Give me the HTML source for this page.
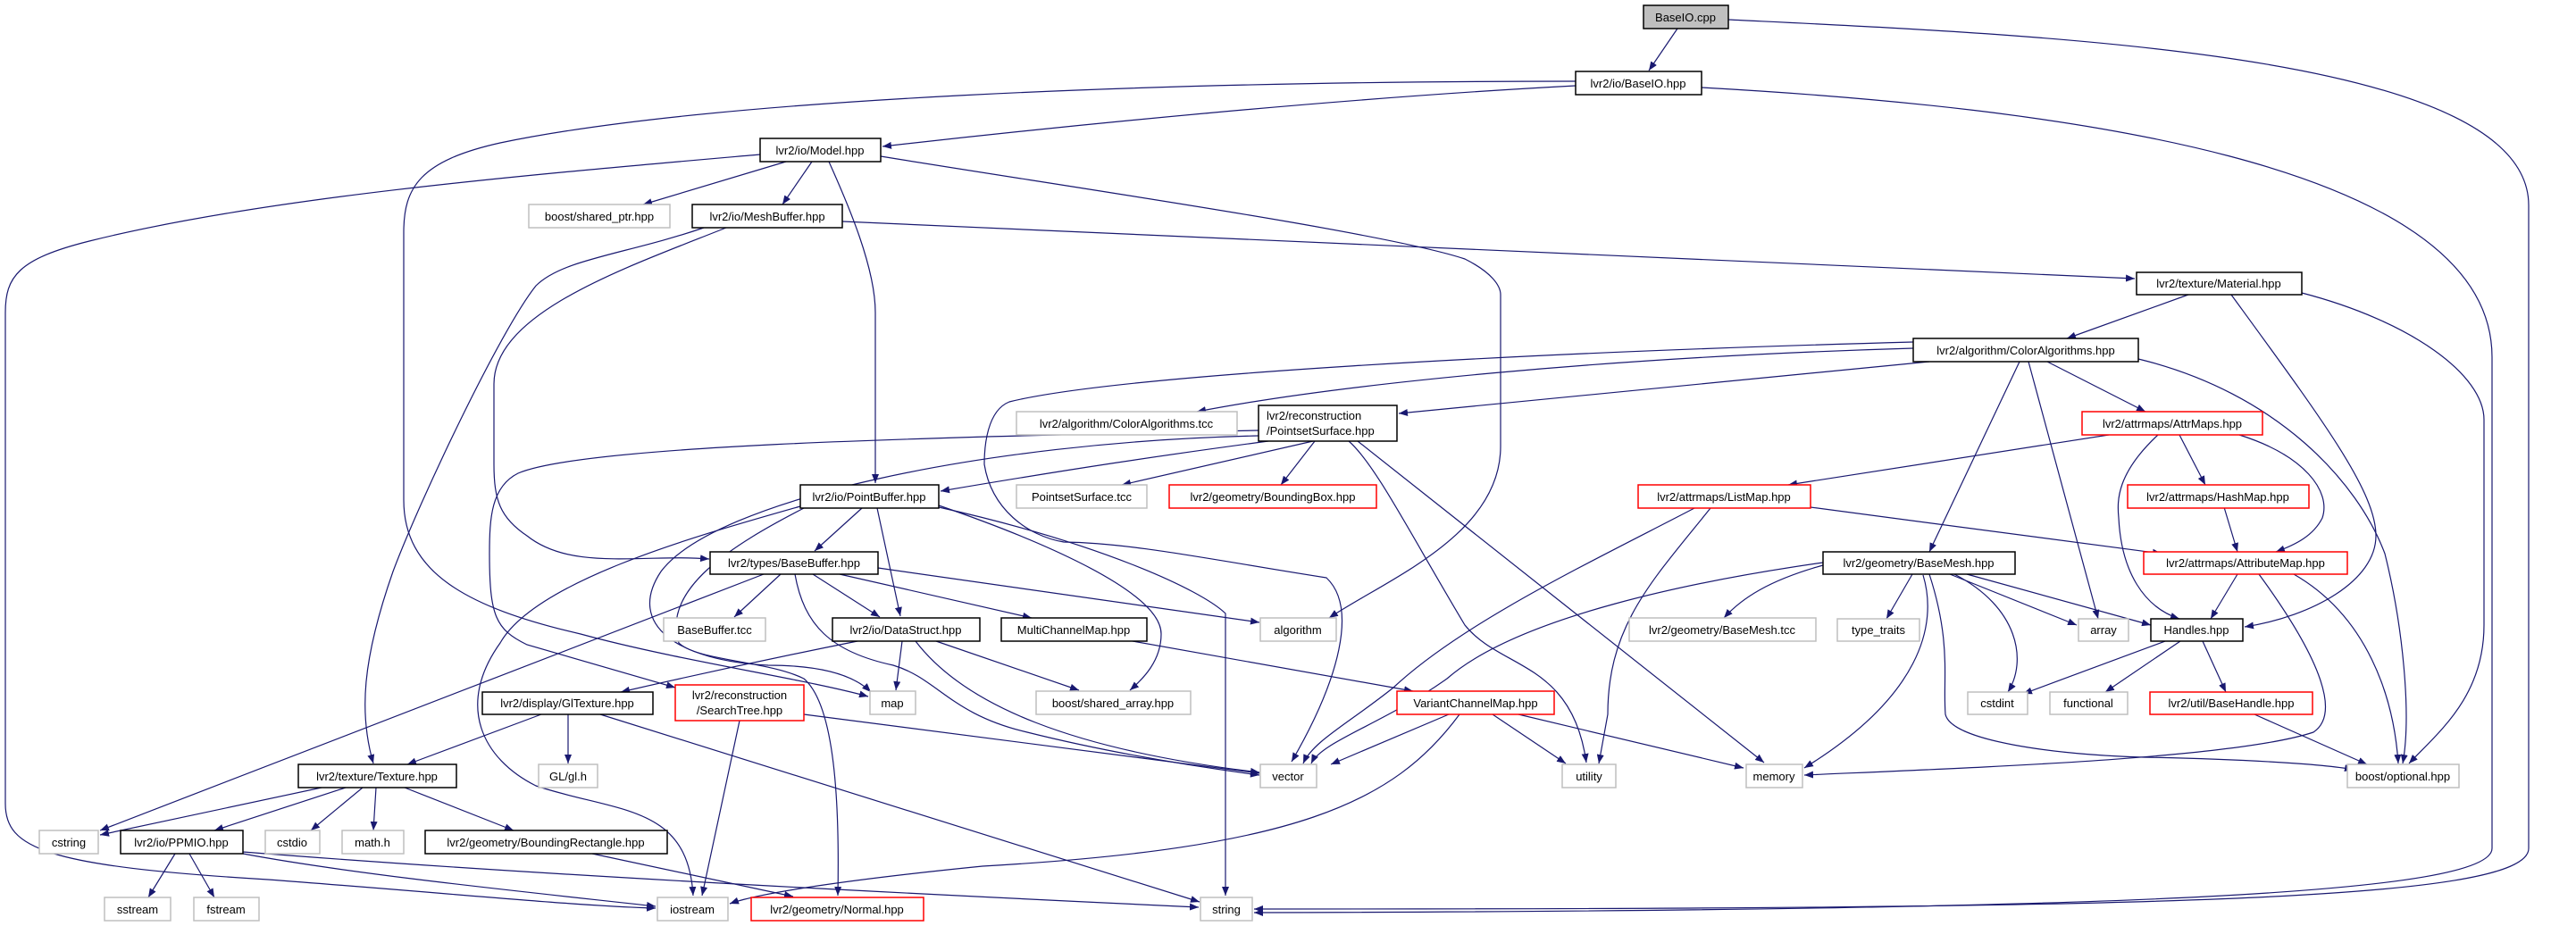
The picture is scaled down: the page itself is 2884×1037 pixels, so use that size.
<!DOCTYPE html>
<html><head><meta charset="utf-8"><style>
html,body{margin:0;padding:0;background:#fff;}
svg{display:block;}
text{font-family:"Liberation Sans",sans-serif;font-size:13px;fill:#000;}
.e{fill:none;stroke:#191970;stroke-width:1.2;marker-end:url(#a);}
.n{fill:#fff;stroke:#000;stroke-width:1.5;}
.g{fill:#fff;stroke:#bfbfbf;stroke-width:1.5;}
.r{fill:#fff;stroke:#ff0000;stroke-width:1.5;}
</style></head><body>
<svg width="2884" height="1037" viewBox="0 0 2884 1037" xmlns="http://www.w3.org/2000/svg">
<defs><marker id="a" markerWidth="10" markerHeight="8" refX="10" refY="4" orient="auto" markerUnits="userSpaceOnUse"><path d="M0,0 L10,4 L0,8 z" fill="#191970"/></marker></defs>
<g>
<path class="e" d="M1878,32 L1846,79"/>
<path class="e" d="M1935,22 C2300,40 2831,60 2831,230 L2831,950 C2831,1010 2400,1018 1404,1018"/>
<path class="e" d="M1764,96 C1500,110 1200,140 988,164"/>
<path class="e" d="M1764,91 C1300,91 800,110 560,160 C470,180 452,210 452,260 L452,560 C452,640 520,680 650,710 C760,740 900,760 972,780"/>
<path class="e" d="M1905,98 C2300,120 2790,180 2790,400 L2790,950 C2790,1000 2400,1020 1404,1022"/>
<path class="e" d="M880,181 L720,229"/>
<path class="e" d="M909,181 L876,229"/>
<path class="e" d="M928,181 C950,230 980,300 980,350 L980,541"/>
<path class="e" d="M851,173 C600,195 300,220 100,270 C20,290 6,310 6,350 L6,900 C6,950 50,970 300,985 C500,1000 650,1015 734,1017"/>
<path class="e" d="M986,175 C1200,210 1550,260 1640,290 C1670,305 1680,320 1680,330 L1680,500 C1680,600 1550,650 1488,692"/>
<path class="e" d="M943,248 L2390,312"/>
<path class="e" d="M788,255 C700,285 630,290 600,320 C560,370 470,560 440,640 C405,740 402,800 418,855"/>
<path class="e" d="M813,255 C700,300 553,350 553,430 L553,520 C553,560 560,580 590,600 C640,640 720,620 794,626"/>
<path class="e" d="M1409,482 C1000,490 650,500 580,530 C550,545 548,580 548,620 C548,690 555,705 590,722 L756,770"/>
<path class="e" d="M2142,383 C1700,395 1250,420 1130,450 C1105,460 1102,500 1102,520 C1110,570 1150,600 1191,607 C1268,608 1357,627 1485,647 C1520,680 1500,760 1446,853"/>
<path class="e" d="M2142,390 C1800,400 1500,430 1340,461"/>
<path class="e" d="M2160,405 L1566,463"/>
<path class="e" d="M1420,494 C1300,510 1200,525 1053,550"/>
<path class="e" d="M1470,494 L1256,543"/>
<path class="e" d="M1472,494 L1434,543"/>
<path class="e" d="M1510,494 C1540,520 1580,600 1640,700 C1680,750 1760,740 1776,854"/>
<path class="e" d="M1520,494 L1975,854"/>
<path class="e" d="M1409,488 C1100,495 800,560 740,640 C700,700 760,740 860,745 C930,745 960,760 975,775"/>
<path class="e" d="M965,569 L912,617"/>
<path class="e" d="M982,569 L1008,690"/>
<path class="e" d="M896,567 C780,600 600,650 560,720 C510,790 540,850 600,880 C690,910 770,900 776,1003"/>
<path class="e" d="M900,569 C820,610 740,660 760,720 C780,740 860,740 900,760 C935,790 940,900 938,1003"/>
<path class="e" d="M1051,568 C1230,608 1344,660 1372,687 L1372,1003"/>
<path class="e" d="M1051,566 C1150,600 1300,660 1300,710 C1300,740 1280,760 1265,773"/>
<path class="e" d="M874,643 L822,691"/>
<path class="e" d="M910,643 L985,691"/>
<path class="e" d="M940,643 L1155,692"/>
<path class="e" d="M983,636 L1410,697"/>
<path class="e" d="M890,643 C900,700 930,730 1000,745 C1050,760 1064,800 1150,820 C1250,845 1350,860 1410,868"/>
<path class="e" d="M855,643 L112,930"/>
<path class="e" d="M1010,718 L1003,773"/>
<path class="e" d="M1048,718 L1208,773"/>
<path class="e" d="M1025,718 C1080,790 1200,840 1410,865"/>
<path class="e" d="M960,718 C850,740 760,760 695,775"/>
<path class="e" d="M900,800 L1410,866"/>
<path class="e" d="M606,800 L456,856"/>
<path class="e" d="M636,800 L636,855"/>
<path class="e" d="M672,800 L1343,1010"/>
<path class="e" d="M828,807 L786,1003"/>
<path class="e" d="M360,882 L112,935"/>
<path class="e" d="M387,882 L240,930"/>
<path class="e" d="M406,882 L348,930"/>
<path class="e" d="M421,882 L418,930"/>
<path class="e" d="M453,882 L575,930"/>
<path class="e" d="M196,956 L166,1005"/>
<path class="e" d="M212,956 L240,1005"/>
<path class="e" d="M272,956 C400,980 600,1000 734,1015"/>
<path class="e" d="M272,954 C600,980 1000,1000 1342,1016"/>
<path class="e" d="M663,956 L888,1004"/>
<path class="e" d="M1622,800 L1490,856"/>
<path class="e" d="M1671,800 L1753,855"/>
<path class="e" d="M1700,800 L1952,860"/>
<path class="e" d="M1634,800 C1560,900 1450,950 1100,970 C950,985 850,1000 817,1012"/>
<path class="e" d="M1268,718 L1582,774"/>
<path class="e" d="M2450,330 L2314,379"/>
<path class="e" d="M2498,330 C2600,470 2660,550 2660,600 C2660,650 2590,690 2513,702"/>
<path class="e" d="M2577,328 C2700,360 2781,420 2781,470 L2781,700 C2781,780 2730,820 2697,855"/>
<path class="e" d="M2292,405 L2402,461"/>
<path class="e" d="M2261,405 L2160,618"/>
<path class="e" d="M2271,405 L2349,693"/>
<path class="e" d="M2394,402 C2550,440 2640,540 2670,620 C2690,700 2700,800 2690,855"/>
<path class="e" d="M2361,487 L2002,543"/>
<path class="e" d="M2440,487 L2469,543"/>
<path class="e" d="M2507,487 C2580,510 2610,550 2600,580 C2590,600 2570,610 2548,618"/>
<path class="e" d="M2416,487 C2370,530 2370,560 2372,580 C2375,640 2400,680 2440,693"/>
<path class="e" d="M2490,568 L2505,618"/>
<path class="e" d="M2027,568 L2420,620"/>
<path class="e" d="M1899,568 C1780,630 1638,697 1560,770 C1510,810 1470,830 1459,855"/>
<path class="e" d="M1915,569 C1850,650 1800,700 1800,800 L1790,855"/>
<path class="e" d="M2041,633 C1980,650 1950,670 1930,692"/>
<path class="e" d="M2141,643 L2112,693"/>
<path class="e" d="M2183,643 L2325,700"/>
<path class="e" d="M2202,643 L2408,700"/>
<path class="e" d="M2188,643 C2260,680 2270,740 2248,775"/>
<path class="e" d="M2153,644 C2170,700 2150,780 2020,860"/>
<path class="e" d="M2160,643 C2185,720 2175,760 2178,800 C2185,830 2300,845 2400,848 C2500,850 2600,855 2635,862"/>
<path class="e" d="M2529,643 C2600,740 2620,800 2590,820 C2500,850 2200,860 2020,868"/>
<path class="e" d="M2041,630 C1900,650 1700,690 1620,760 C1550,810 1480,830 1468,855"/>
<path class="e" d="M2505,643 L2475,693"/>
<path class="e" d="M2568,643 C2650,690 2680,780 2685,855"/>
<path class="e" d="M2424,718 L2265,777"/>
<path class="e" d="M2441,718 L2357,775"/>
<path class="e" d="M2466,718 L2492,775"/>
<path class="e" d="M2524,800 L2650,856"/>
</g>
<g>
<rect x="1840" y="6" width="95" height="26" fill="#bfbfbf" stroke="#000" stroke-width="1.5"/><text x="1887" y="24" text-anchor="middle">BaseIO.cpp</text>
<rect class="n" x="1764" y="80" width="141" height="26"/><text x="1834" y="98" text-anchor="middle">lvr2/io/BaseIO.hpp</text>
<rect class="n" x="851" y="155" width="135" height="26"/><text x="918" y="173" text-anchor="middle">lvr2/io/Model.hpp</text>
<rect class="g" x="592" y="229" width="158" height="26"/><text x="671" y="247" text-anchor="middle">boost/shared_ptr.hpp</text>
<rect class="n" x="775" y="229" width="168" height="26"/><text x="859" y="247" text-anchor="middle">lvr2/io/MeshBuffer.hpp</text>
<rect class="n" x="2392" y="305" width="185" height="25"/><text x="2484" y="322" text-anchor="middle">lvr2/texture/Material.hpp</text>
<rect class="n" x="2142" y="379" width="252" height="26"/><text x="2268" y="397" text-anchor="middle">lvr2/algorithm/ColorAlgorithms.hpp</text>
<rect class="g" x="1138" y="461" width="247" height="26"/><text x="1261" y="479" text-anchor="middle">lvr2/algorithm/ColorAlgorithms.tcc</text>
<rect class="n" x="1409" y="454" width="155" height="40"/><text x="1418" y="470">lvr2/reconstruction</text><text x="1418" y="487">/PointsetSurface.hpp</text>
<rect class="r" x="2331" y="461" width="202" height="26"/><text x="2432" y="479" text-anchor="middle">lvr2/attrmaps/AttrMaps.hpp</text>
<rect class="n" x="896" y="543" width="155" height="26"/><text x="973" y="561" text-anchor="middle">lvr2/io/PointBuffer.hpp</text>
<rect class="g" x="1138" y="543" width="146" height="26"/><text x="1211" y="561" text-anchor="middle">PointsetSurface.tcc</text>
<rect class="r" x="1309" y="543" width="232" height="26"/><text x="1425" y="561" text-anchor="middle">lvr2/geometry/BoundingBox.hpp</text>
<rect class="r" x="1834" y="543" width="193" height="26"/><text x="1930" y="561" text-anchor="middle">lvr2/attrmaps/ListMap.hpp</text>
<rect class="r" x="2382" y="543" width="203" height="26"/><text x="2483" y="561" text-anchor="middle">lvr2/attrmaps/HashMap.hpp</text>
<rect class="n" x="795" y="618" width="188" height="25"/><text x="889" y="635" text-anchor="middle">lvr2/types/BaseBuffer.hpp</text>
<rect class="n" x="2041" y="618" width="215" height="25"/><text x="2148" y="635" text-anchor="middle">lvr2/geometry/BaseMesh.hpp</text>
<rect class="r" x="2400" y="618" width="228" height="25"/><text x="2514" y="635" text-anchor="middle">lvr2/attrmaps/AttributeMap.hpp</text>
<rect class="g" x="743" y="692" width="114" height="26"/><text x="800" y="710" text-anchor="middle">BaseBuffer.tcc</text>
<rect class="n" x="932" y="692" width="165" height="26"/><text x="1014" y="710" text-anchor="middle">lvr2/io/DataStruct.hpp</text>
<rect class="n" x="1121" y="692" width="163" height="26"/><text x="1202" y="710" text-anchor="middle">MultiChannelMap.hpp</text>
<rect class="g" x="1411" y="692" width="85" height="26"/><text x="1453" y="710" text-anchor="middle">algorithm</text>
<rect class="g" x="1824" y="692" width="209" height="26"/><text x="1928" y="710" text-anchor="middle">lvr2/geometry/BaseMesh.tcc</text>
<rect class="g" x="2057" y="693" width="92" height="25"/><text x="2103" y="710" text-anchor="middle">type_traits</text>
<rect class="g" x="2327" y="693" width="56" height="25"/><text x="2355" y="710" text-anchor="middle">array</text>
<rect class="n" x="2408" y="693" width="103" height="25"/><text x="2459" y="710" text-anchor="middle">Handles.hpp</text>
<rect class="n" x="540" y="775" width="191" height="25"/><text x="635" y="792" text-anchor="middle">lvr2/display/GlTexture.hpp</text>
<rect class="r" x="756" y="767" width="144" height="40"/><text x="828" y="783" text-anchor="middle">lvr2/reconstruction</text><text x="828" y="800" text-anchor="middle">/SearchTree.hpp</text>
<rect class="g" x="974" y="774" width="51" height="26"/><text x="999" y="792" text-anchor="middle">map</text>
<rect class="g" x="1160" y="774" width="173" height="26"/><text x="1246" y="792" text-anchor="middle">boost/shared_array.hpp</text>
<rect class="r" x="1564" y="774" width="176" height="26"/><text x="1652" y="792" text-anchor="middle">VariantChannelMap.hpp</text>
<rect class="g" x="2203" y="775" width="67" height="25"/><text x="2236" y="792" text-anchor="middle">cstdint</text>
<rect class="g" x="2295" y="775" width="87" height="25"/><text x="2338" y="792" text-anchor="middle">functional</text>
<rect class="r" x="2407" y="775" width="182" height="25"/><text x="2498" y="792" text-anchor="middle">lvr2/util/BaseHandle.hpp</text>
<rect class="g" x="603" y="856" width="66" height="26"/><text x="636" y="874" text-anchor="middle">GL/gl.h</text>
<rect class="n" x="334" y="856" width="177" height="26"/><text x="422" y="874" text-anchor="middle">lvr2/texture/Texture.hpp</text>
<rect class="g" x="1411" y="856" width="63" height="26"/><text x="1442" y="874" text-anchor="middle">vector</text>
<rect class="g" x="1749" y="856" width="60" height="26"/><text x="1779" y="874" text-anchor="middle">utility</text>
<rect class="g" x="1955" y="856" width="63" height="26"/><text x="1986" y="874" text-anchor="middle">memory</text>
<rect class="g" x="2628" y="856" width="125" height="26"/><text x="2690" y="874" text-anchor="middle">boost/optional.hpp</text>
<rect class="g" x="44" y="930" width="66" height="26"/><text x="77" y="948" text-anchor="middle">cstring</text>
<rect class="n" x="135" y="930" width="137" height="26"/><text x="203" y="948" text-anchor="middle">lvr2/io/PPMIO.hpp</text>
<rect class="g" x="297" y="930" width="61" height="26"/><text x="327" y="948" text-anchor="middle">cstdio</text>
<rect class="g" x="383" y="930" width="69" height="26"/><text x="417" y="948" text-anchor="middle">math.h</text>
<rect class="n" x="476" y="930" width="271" height="26"/><text x="611" y="948" text-anchor="middle">lvr2/geometry/BoundingRectangle.hpp</text>
<rect class="g" x="117" y="1005" width="74" height="26"/><text x="154" y="1023" text-anchor="middle">sstream</text>
<rect class="g" x="217" y="1005" width="73" height="26"/><text x="253" y="1023" text-anchor="middle">fstream</text>
<rect class="g" x="736" y="1005" width="79" height="26"/><text x="775" y="1023" text-anchor="middle">iostream</text>
<rect class="r" x="841" y="1005" width="193" height="26"/><text x="937" y="1023" text-anchor="middle">lvr2/geometry/Normal.hpp</text>
<rect class="g" x="1344" y="1005" width="58" height="26"/><text x="1373" y="1023" text-anchor="middle">string</text>
</g>
</svg>
</body></html>
